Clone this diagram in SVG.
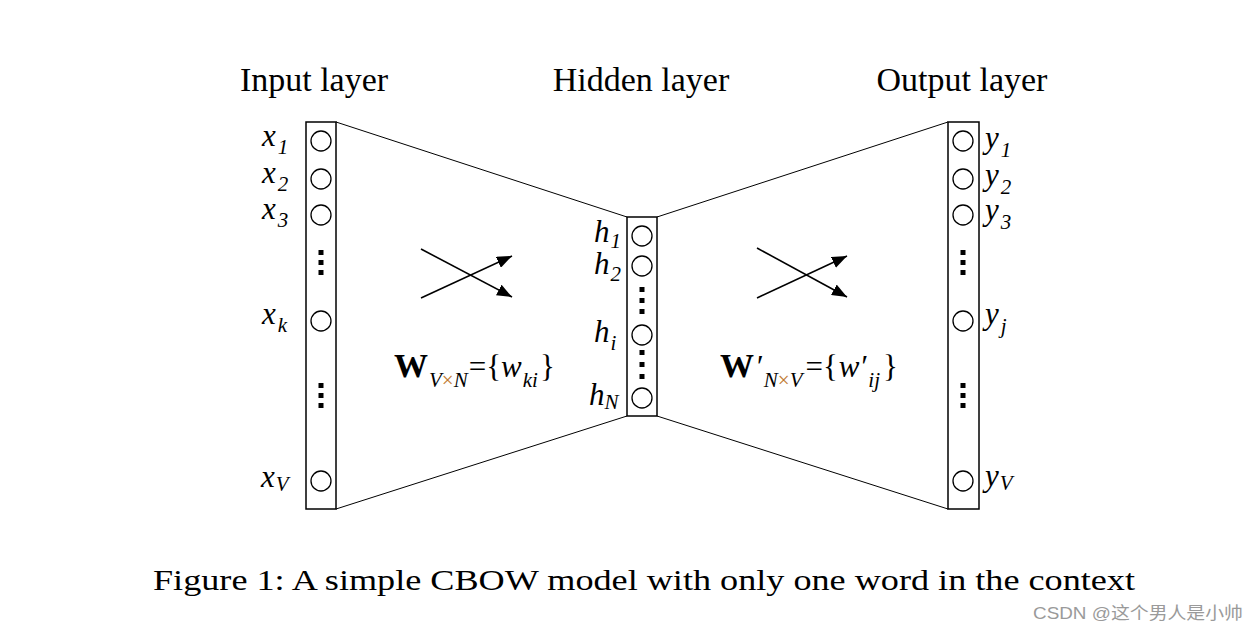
<svg xmlns="http://www.w3.org/2000/svg" width="1258" height="634" viewBox="0 0 1258 634">
<defs>
<style>
.box{fill:#fff;stroke:#000;stroke-width:1.5}
.node{fill:#fff;stroke:#000;stroke-width:1.3}
.dot{fill:#000}
.conn{stroke:#000;stroke-width:1;fill:none}
.arr{stroke:#000;stroke-width:1.6;fill:none}
.title{font-family:"Liberation Serif",serif;font-size:34px;fill:#000}
.var{font-family:"Liberation Serif",serif;font-style:italic;font-size:31px;fill:#000}
.sub{font-size:21px}
.wb{font-family:"Liberation Serif",serif;font-weight:bold;font-size:34px;fill:#000}
.eq{font-family:"Liberation Serif",serif;font-size:31px;fill:#000}
.it{font-style:italic}
.times{fill:#c07a30;font-style:normal}
.cap{font-family:"Liberation Serif",serif;font-size:30px;fill:#000}
.wm{font-family:"Liberation Sans","Noto Sans CJK SC",sans-serif;font-size:17px;fill:#9a9a9a}
</style>
<marker id="ah" markerUnits="userSpaceOnUse" markerWidth="16" markerHeight="12" refX="15" refY="6" orient="auto">
<path d="M0,0 L15,6 L0,12 Z" fill="#000"/>
</marker>
</defs>
<rect width="1258" height="634" fill="#fff"/>

<text class="title" x="314" y="91" text-anchor="middle">Input layer</text>
<text class="title" x="641" y="91" text-anchor="middle">Hidden layer</text>
<text class="title" x="962" y="91" text-anchor="middle">Output layer</text>

<g id="connectors">
<line class="conn" x1="336" y1="122" x2="627" y2="217"/>
<line class="conn" x1="336" y1="509" x2="627" y2="416"/>
<line class="conn" x1="657" y1="217" x2="948" y2="122"/>
<line class="conn" x1="657" y1="416" x2="948" y2="509"/>
<line class="arr" x1="421" y1="249" x2="512" y2="297" marker-end="url(#ah)"/>
<line class="arr" x1="421" y1="298" x2="512" y2="256" marker-end="url(#ah)"/>
<line class="arr" x1="757" y1="248" x2="847" y2="297" marker-end="url(#ah)"/>
<line class="arr" x1="757" y1="298" x2="847" y2="256" marker-end="url(#ah)"/>
</g>

<g id="input-layer">
<rect class="box" x="306" y="122" width="30" height="387"/>
<circle class="node" cx="321" cy="141" r="10"/>
<circle class="node" cx="321" cy="179" r="10"/>
<circle class="node" cx="321" cy="215" r="10"/>
<circle class="node" cx="321" cy="321" r="10"/>
<circle class="node" cx="321" cy="481" r="10"/>
<rect class="dot" x="318.5" y="250" width="5" height="5"/>
<rect class="dot" x="318.5" y="260" width="5" height="5"/>
<rect class="dot" x="318.5" y="270" width="5" height="5"/>
<rect class="dot" x="318.5" y="383" width="5" height="5"/>
<rect class="dot" x="318.5" y="393" width="5" height="5"/>
<rect class="dot" x="318.5" y="403" width="5" height="5"/>
<text class="var" x="262" y="146">x<tspan class="sub" dx="2" dy="8">1</tspan></text>
<text class="var" x="262" y="183">x<tspan class="sub" dx="2" dy="8">2</tspan></text>
<text class="var" x="262" y="219">x<tspan class="sub" dx="2" dy="8">3</tspan></text>
<text class="var" x="262" y="324">x<tspan class="sub" dx="2" dy="8">k</tspan></text>
<text class="var" x="261" y="487">x<tspan class="sub" dx="1" dy="4">V</tspan></text>
</g>

<g id="hidden-layer">
<rect class="box" x="627" y="217" width="30" height="199"/>
<circle class="node" cx="642" cy="236" r="10"/>
<circle class="node" cx="642" cy="266" r="10"/>
<circle class="node" cx="642" cy="335" r="10"/>
<circle class="node" cx="642" cy="398" r="10"/>
<rect class="dot" x="639.5" y="287" width="5" height="5"/>
<rect class="dot" x="639.5" y="298" width="5" height="5"/>
<rect class="dot" x="639.5" y="309" width="5" height="5"/>
<rect class="dot" x="639.5" y="350" width="5" height="5"/>
<rect class="dot" x="639.5" y="362" width="5" height="5"/>
<rect class="dot" x="639.5" y="374" width="5" height="5"/>
<text class="var" x="594" y="242">h<tspan class="sub" dx="1" dy="6">1</tspan></text>
<text class="var" x="594" y="274">h<tspan class="sub" dx="1" dy="7">2</tspan></text>
<text class="var" x="594" y="342">h<tspan class="sub" dx="1" dy="8">i</tspan></text>
<text class="var" x="589" y="405">h<tspan class="sub" dx="0" dy="4">N</tspan></text>
</g>

<g id="output-layer">
<rect class="box" x="948" y="122" width="31" height="387"/>
<circle class="node" cx="963" cy="141" r="10"/>
<circle class="node" cx="963" cy="179" r="10"/>
<circle class="node" cx="963" cy="215" r="10"/>
<circle class="node" cx="963" cy="321" r="10"/>
<circle class="node" cx="963" cy="481" r="10"/>
<rect class="dot" x="960.5" y="250" width="5" height="5"/>
<rect class="dot" x="960.5" y="260" width="5" height="5"/>
<rect class="dot" x="960.5" y="270" width="5" height="5"/>
<rect class="dot" x="960.5" y="383" width="5" height="5"/>
<rect class="dot" x="960.5" y="393" width="5" height="5"/>
<rect class="dot" x="960.5" y="403" width="5" height="5"/>
<text class="var" x="985" y="148">y<tspan class="sub" dx="2" dy="9">1</tspan></text>
<text class="var" x="985" y="185">y<tspan class="sub" dx="2" dy="9">2</tspan></text>
<text class="var" x="985" y="220">y<tspan class="sub" dx="2" dy="9">3</tspan></text>
<text class="var" x="985" y="324">y<tspan class="sub" dx="2" dy="9">j</tspan></text>
<text class="var" x="985" y="486">y<tspan class="sub" dx="1" dy="4">V</tspan></text>
</g>

<g id="weight-input-hidden">
<text class="eq" x="394" y="377"><tspan class="wb">W</tspan><tspan class="sub it" dx="1" dy="10">V<tspan class="times">×</tspan>N</tspan><tspan dx="1" dy="-10">={</tspan><tspan class="it" dx="0">w</tspan><tspan class="sub it" dx="1" dy="10">ki</tspan><tspan dx="2" dy="-10">}</tspan></text>
</g>

<g id="weight-hidden-output">
<text class="eq" x="720" y="377"><tspan class="wb">W</tspan><tspan class="it" dx="1">′</tspan><tspan class="sub it" dx="2" dy="10">N<tspan class="times">×</tspan>V</tspan><tspan dx="3" dy="-10">={</tspan><tspan class="it" dx="1">w′</tspan><tspan class="sub it" dx="2" dy="10">ij</tspan><tspan dx="3" dy="-10">}</tspan></text>
</g>

<text class="cap" x="153" y="590" textLength="982" lengthAdjust="spacingAndGlyphs">Figure 1: A simple CBOW model with only one word in the context</text>
<text class="wm" x="1033" y="619" textLength="210" lengthAdjust="spacingAndGlyphs">CSDN @这个男人是小帅</text>
</svg>
